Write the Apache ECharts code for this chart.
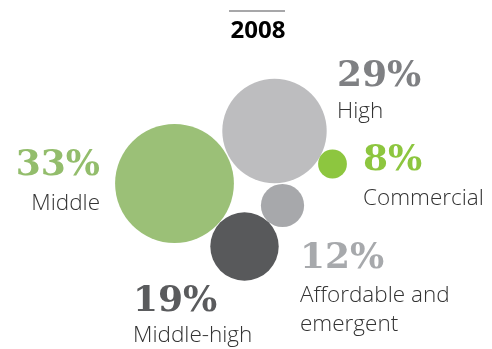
<!DOCTYPE html>
<html>
<head>
<meta charset="utf-8">
<script src="https://cdn.jsdelivr.net/npm/echarts@6/dist/echarts.min.js"></script>
<style>
  html, body { margin: 0; padding: 0; background: #ffffff; }
  #chart { width: 492px; height: 349px; }
</style>
</head>
<body>
<div id="chart"></div>
<script>
// Housing segments, 2008: share of total (%)
const segments = ['Middle', 'High', 'Commercial', 'Affordable and\nemergent', 'Middle-high'];
const shares = [33, 29, 8, 12, 19];
// Bubble placement in the layout's own units (x to the right, y downward)
const xPos = [174.5, 274.5, 332.5, 282.5, 244.5];
const yPos = [183.5, 131, 164, 205.5, 246.5];
const year = '2008';

const fills = ['#9bc077', '#bdbdbf', '#8dc63f', '#a7a8ab', '#58595b'];
const pctColors = ['#93bd6c', '#7f8083', '#8dc63f', '#a7a9ac', '#5a5b5d'];

// Label anchor relative to bubble centre, alignment and name line height
const labelLayout = [
  { offset: [-74.5, -40], align: 'right', nameLH: 32 },
  { offset: [62.5, -76], align: 'left', nameLH: 26 },
  { offset: [30.5, -25], align: 'left', nameLH: 32 },
  { offset: [17.5, 31.5], align: 'left', nameLH: 29 },
  { offset: [-111.5, 33.5], align: 'left', nameLH: 24 }
];

// Bubble diameter grows linearly with share
const SIZE_PER_POINT = 3.6;

const data = segments.map((name, i) => {
  const lay = labelLayout[i];
  return {
    name: name,
    value: [xPos[i], yPos[i], shares[i]],
    symbolSize: shares[i] * SIZE_PER_POINT,
    itemStyle: { color: fills[i], opacity: 1 },
    label: {
      show: true,
      position: 'inside',
      offset: lay.offset,
      align: lay.align,
      verticalAlign: 'top',
      opacity: 1,
      formatter: p => '{p|' + p.value[2] + '%}\n' +
        p.name.split('\n').map(s => '{n|' + s + '}').join('\n'),
      rich: {
        p: {
          fontFamily: 'DejaVu Serif',
          fontWeight: 'bold',
          fontSize: 36,
          lineHeight: 44,
          color: pctColors[i],
          align: lay.align
        },
        n: {
          fontFamily: 'Open Sans',
          fontWeight: 300,
          fontSize: 22.5,
          lineHeight: lay.nameLH,
          color: '#333333',
          align: lay.align
        }
      }
    }
  };
});

const chart = echarts.init(document.getElementById('chart'), null, { renderer: 'canvas' });
chart.setOption({
  animation: false,
  backgroundColor: '#ffffff',
  title: {
    text: year,
    left: 253,
    textAlign: 'center',
    top: 14,
    textStyle: {
      fontFamily: 'Open Sans',
      fontWeight: 'bold',
      fontSize: 24,
      color: '#000000'
    }
  },
  graphic: [{
    type: 'line',
    shape: { x1: 229, y1: 11, x2: 285, y2: 11 },
    style: { stroke: '#8a8a8c', lineWidth: 1.5 }
  }],
  grid: { left: 0, right: 0, top: 0, bottom: 0 },
  xAxis: { type: 'value', min: 0, max: 492, show: false },
  yAxis: { type: 'value', min: 0, max: 349, inverse: true, show: false },
  series: [{
    type: 'scatter',
    symbol: 'circle',
    silent: true,
    data: data
  }]
});
</script>
</body>
</html>
